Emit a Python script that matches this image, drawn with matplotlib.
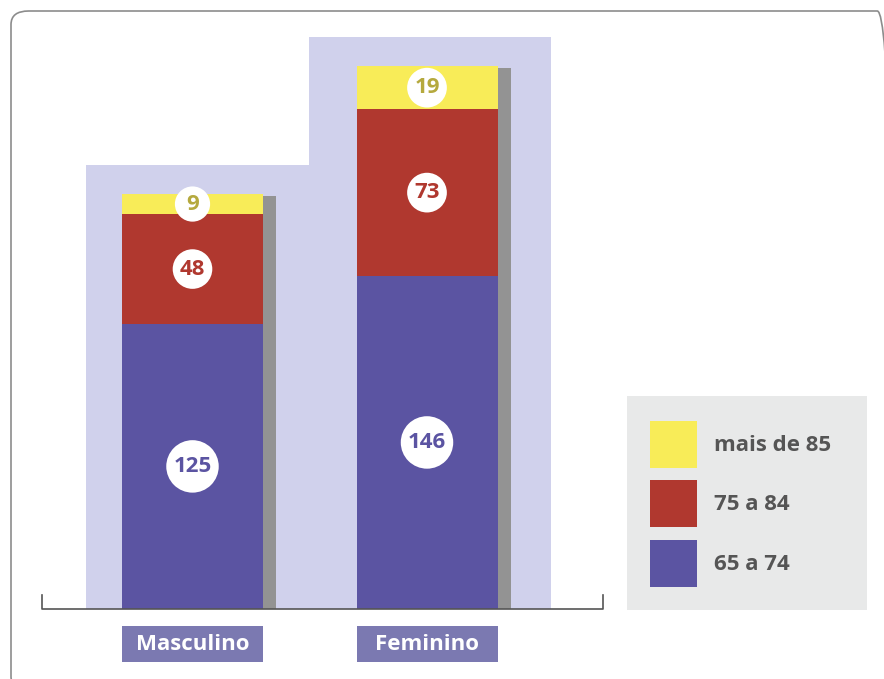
import numpy as np
import matplotlib.pyplot as plt
from matplotlib.patches import Rectangle, FancyBboxPatch, Patch

plt.rcParams['font.family'] = ['Open Sans', 'DejaVu Sans']

categories = ['Masculino', 'Feminino']
age_groups = ['65 a 74', '75 a 84', 'mais de 85']
values_65_74 = [125, 146]
values_75_84 = [48, 73]
values_85_plus = [9, 19]

colors = ['#5b54a2', '#b0382f', '#f8ec58']
text_colors = ['#5b54a2', '#b0382f', '#b5a93e']
shadow_color = '#939393'
panel_color = '#d0d1ec'
label_box_color = '#7b79b1'

W, H = 884, 679
fig = plt.figure(figsize=(W / 100, H / 100), dpi=100)

# rounded frame around the whole graphic
frame = FancyBboxPatch((11 / W, 1 - 690 / H), (895 - 11) / W, (690 - 11) / H,
                       boxstyle='round,pad=0,rounding_size=0.02',
                       transform=fig.transFigure, facecolor='none',
                       edgecolor='#8c8c8c', linewidth=1.2, clip_on=False)
fig.patches.append(frame)

# axes mapped so that bars sit where they do in the reference
ax_left, ax_right = 42, 603
y_base, y_top = 609, 10
ax = fig.add_axes([ax_left / W, 1 - y_base / H, (ax_right - ax_left) / W, (y_base - y_top) / H])
px_per_x = 234.5
px_per_y = 543 / (values_65_74[1] + values_75_84[1] + values_85_plus[1])
ax.set_xlim((ax_left - 192.5) / px_per_x, (ax_right - 192.5) / px_per_x)
ax.set_ylim(0, (y_base - y_top) / px_per_y)
ax.axis('off')

x = np.arange(len(categories))
bar_w = 141 / px_per_x
shadow_w = 13 / px_per_x
series = [values_65_74, values_75_84, values_85_plus]
totals = np.sum(series, axis=0)

# lavender step-shaped panel behind the bars
pad_top = 29 / px_per_y
ax.bar(0 - 0.454 + 0.9515 / 2, totals[0] + pad_top, width=0.9515, color=panel_color, zorder=0)
ax.bar(0.4975 + 1.032 / 2, totals[1] + pad_top, width=1.032, color=panel_color, zorder=0)

# grey shadow on the right side of each bar
ax.bar(x + bar_w / 2 + shadow_w / 2, totals - 2 / px_per_y, width=shadow_w,
       color=shadow_color, zorder=1)

bottom = np.zeros(len(categories))
for vals, col, tcol in zip(series, colors, text_colors):
    ax.bar(x, vals, bottom=bottom, width=bar_w, color=col, zorder=2)
    for xi, b, v in zip(x, bottom, vals):
        ax.text(xi, b + v / 2, str(v), ha='center', va='center', fontsize=16,
                fontweight='bold', color=tcol, zorder=4,
                bbox=dict(boxstyle='circle,pad=0.32', facecolor='white', edgecolor='none'))
    bottom += np.array(vals)

# baseline with end ticks
ax.plot([0, 0, 1, 1], [14 / 599, 0, 0, 14 / 599], transform=ax.transAxes,
        color='#555555', linewidth=1.2, clip_on=False, zorder=3)

# category labels in purple boxes
box_top = -(626 - y_base) / px_per_y
box_h = 36 / px_per_y
for xi, cat in zip(x, categories):
    ax.add_patch(Rectangle((xi - bar_w / 2, box_top - box_h), bar_w, box_h,
                           facecolor=label_box_color, edgecolor='none', clip_on=False))
    ax.text(xi, box_top - box_h / 2, cat, ha='center', va='center', fontsize=16,
            fontweight='bold', color='white', clip_on=False)

# legend: grey background box, then the legend entries inside it
fig.patches.append(Rectangle((627 / W, 1 - 610 / H), 240 / W, 214 / H,
                             transform=fig.transFigure, facecolor='#e8e9e9',
                             edgecolor='none', zorder=0))
handles = [Patch(facecolor=c, edgecolor='none') for c in colors][::-1]
leg = fig.legend(handles, age_groups[::-1], loc='upper left',
                 bbox_to_anchor=(650 / W, 1 - 421 / H), bbox_transform=fig.transFigure,
                 borderaxespad=0, borderpad=0, fontsize=16, frameon=False,
                 handlelength=2.1, handleheight=2.88, labelspacing=0.55,
                 handletextpad=0.8)
for t in leg.get_texts():
    t.set_color('#555555')
    t.set_fontweight('bold')

fig.savefig('out.png', dpi=100)
